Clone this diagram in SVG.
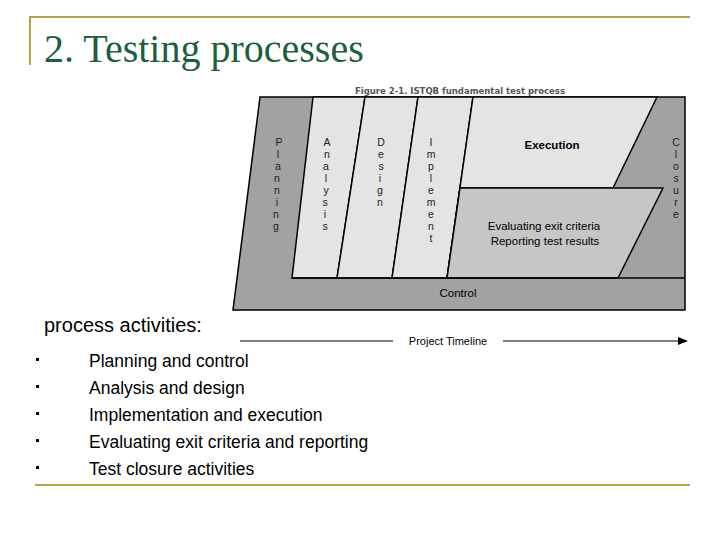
<svg xmlns="http://www.w3.org/2000/svg" width="720" height="540" viewBox="0 0 720 540">
<style>
.s{font-family:"Liberation Sans",Arial,sans-serif;fill:#000}
.b{font-size:17.5px}
.v{font-family:"Liberation Sans",Arial,sans-serif;font-size:10.5px;fill:#222;text-anchor:middle}
.ln{stroke:#000;stroke-width:1.5}
.lt{fill:#e4e4e4}
</style>
<rect width="720" height="540" fill="#fff"/>
<g id="frame" stroke="#b5a046" stroke-width="2" fill="none">
<path d="M30 65 V17 H690"/><path d="M35 485 H690"/>
</g>
<text x="44" y="62" font-family="Liberation Serif,serif" font-size="40" fill="#1e5e3c">2. Testing processes</text>
<text x="460" y="94" font-family="DejaVu Sans,sans-serif" font-size="8.5" font-weight="bold" fill="#555" text-anchor="middle">Figure 2-1. ISTQB fundamental test process</text>
<g id="figure">
<polygon points="260,97 685,97 685,310 233,310" fill="#a2a2a2" stroke="#000" stroke-width="1.5"/>
<polygon points="313,97 365,97 337,278 292,278" class="ln lt"/>
<polygon points="365,97 418,97 392,278 337,278" class="ln lt"/>
<polygon points="418,97 473,97 447,278 392,278" class="ln lt"/>
<polygon points="473,97 657,97 613,188 460,188 447,278" class="ln lt"/>
<polygon points="460,188 663,188 618,278 447,278" fill="#c6c6c6" class="ln"/>
<line x1="292" y1="278" x2="685" y2="278" class="ln"/>
</g>
<g id="labels">
<text class="v" x="279" y="146">P</text><text class="v" x="278" y="158">l</text><text class="v" x="278" y="170">a</text><text class="v" x="277" y="182">n</text><text class="v" x="277" y="194">n</text><text class="v" x="277" y="206">i</text><text class="v" x="276" y="218">n</text><text class="v" x="276" y="230">g</text>
<text class="v" x="327" y="146">A</text><text class="v" x="327" y="158">n</text><text class="v" x="326" y="170">a</text><text class="v" x="326" y="182">l</text><text class="v" x="326" y="194">y</text><text class="v" x="325" y="206">s</text><text class="v" x="325" y="218">i</text><text class="v" x="325" y="230">s</text>
<text class="v" x="381" y="146">D</text><text class="v" x="381" y="158">e</text><text class="v" x="381" y="170">s</text><text class="v" x="380" y="182">i</text><text class="v" x="380" y="194">g</text><text class="v" x="380" y="206">n</text>
<text class="v" x="431" y="146">I</text><text class="v" x="431" y="158">m</text><text class="v" x="431" y="170">p</text><text class="v" x="431" y="182">l</text><text class="v" x="431" y="194">e</text><text class="v" x="431" y="206">m</text><text class="v" x="431" y="218">e</text><text class="v" x="431" y="230">n</text><text class="v" x="431" y="242">t</text>
<text class="v" x="676" y="146">C</text><text class="v" x="676" y="158">l</text><text class="v" x="676" y="170">o</text><text class="v" x="676" y="182">s</text><text class="v" x="676" y="194">u</text><text class="v" x="676" y="206">r</text><text class="v" x="676" y="218">e</text>
<text class="s" x="552" y="149" font-size="11.5" font-weight="bold" text-anchor="middle" fill="#222">Execution</text>
<text class="s" x="544" y="230" font-size="11.5" text-anchor="middle">Evaluating exit criteria</text>
<text class="s" x="545" y="245" font-size="11.5" text-anchor="middle">Reporting test results</text>
<text class="s" x="458" y="297" font-size="11.5" text-anchor="middle">Control</text>
</g>
<g id="connectors">
<line x1="240" y1="341" x2="393" y2="341" stroke="#000" stroke-width="1"/>
<line x1="503" y1="341" x2="680" y2="341" stroke="#000" stroke-width="1"/>
<polygon points="678,337 688,341 678,345" fill="#000"/>
</g>
<text class="s" x="448" y="345" font-size="11" text-anchor="middle">Project Timeline</text>
<text class="s" x="44" y="332" font-size="20">process activities:</text>
<g fill="#000">
<rect x="36" y="358" width="3" height="3"/><rect x="36" y="385" width="3" height="3"/><rect x="36" y="412" width="3" height="3"/><rect x="36" y="439" width="3" height="3"/><rect x="36" y="466" width="3" height="3"/>
</g>
<text class="s b" x="89" y="367">Planning and control</text>
<text class="s b" x="89" y="394">Analysis and design</text>
<text class="s b" x="89" y="421">Implementation and execution</text>
<text class="s b" x="89" y="448">Evaluating exit criteria and reporting</text>
<text class="s b" x="89" y="475">Test closure activities</text>
</svg>
